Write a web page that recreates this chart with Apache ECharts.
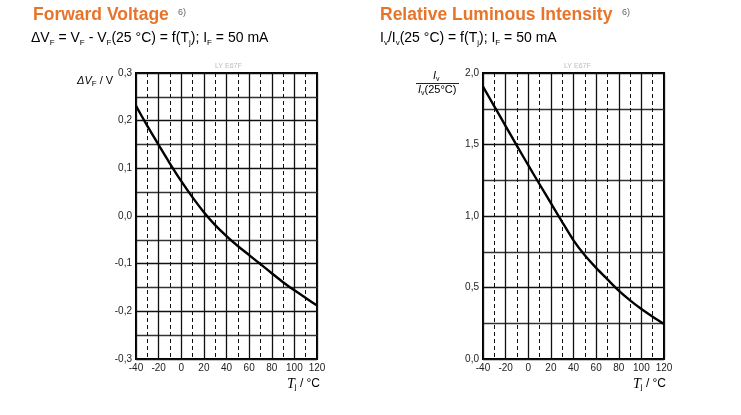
<!DOCTYPE html>
<html><head><meta charset="utf-8">
<script src="https://cdn.jsdelivr.net/npm/echarts@6/dist/echarts.min.js"></script>
<style>html,body{margin:0;padding:0;background:#fff}#c{width:741px;height:415px}</style>
</head><body><div id="c"></div>
<script>
// ---- data ----
const temps = [-40,-30,-20,-10,0,10,20,30,40,50,60,70,80,90,100,110,120];
const deltaVF = [0.231,0.189,0.149,0.110,0.073,0.039,0.008,-0.019,-0.042,-0.063,-0.082,-0.101,-0.120,-0.139,-0.156,-0.172,-0.188];
const relIv = [1.905,1.767,1.629,1.491,1.355,1.222,1.090,0.958,0.830,0.725,0.637,0.557,0.478,0.410,0.350,0.296,0.245];
const xTicks = [-40,-20,0,20,40,60,80,100,120];
const leftYTicks = [-0.3,-0.2,-0.1,0.0,0.1,0.2,0.3];
const rightYTicks = [0.0,0.5,1.0,1.5,2.0];

const FONT = '"Liberation Sans", Arial, sans-serif';
const SERIF = '"Liberation Serif", "DejaVu Serif", serif';
const ORANGE = '#e8742a';
const fmt = v => (Math.abs(v) < 1e-9 ? 0 : v).toFixed(1).replace('.', ',');

function xAxis(gi){
  return {type:'value', gridIndex:gi, min:xTicks[0], max:xTicks[xTicks.length-1], interval:20,
    axisLine:{show:false}, axisTick:{show:false},
    axisLabel:{fontFamily:FONT, fontSize:10, color:'#222', margin:4},
    splitLine:{show:true, lineStyle:{color:'#111', width:1.3}},
    minorTick:{show:false, splitNumber:2},
    minorSplitLine:{show:true, lineStyle:{color:'#111', width:1, type:[4,3]}}};
}
function yAxis(gi, ticks, interval){
  return {type:'value', gridIndex:gi, min:ticks[0], max:ticks[ticks.length-1], interval:interval,
    axisLine:{show:false}, axisTick:{show:false},
    axisLabel:{fontFamily:FONT, fontSize:10, color:'#222', margin:4, formatter:fmt},
    splitLine:{show:true, lineStyle:{color:'#111', width:1.3}},
    minorTick:{show:false, splitNumber:2},
    minorSplitLine:{show:true, lineStyle:{color:'#333', width:1.3}}};
}

const subRich = {
  n:{fontFamily:FONT, fontSize:14, color:'#555', lineHeight:18, verticalAlign:'middle'},
  s:{fontFamily:FONT, fontSize:8, color:'#555', lineHeight:6, verticalAlign:'bottom'}
};
function axRich(fs, ss){
  return {
    i:{fontFamily:FONT, fontSize:fs, fontStyle:'italic', color:'#222', lineHeight:14, verticalAlign:'middle'},
    t:{fontFamily:SERIF, fontSize:fs+2, fontStyle:'italic', color:'#222', lineHeight:14, verticalAlign:'middle'},
    s:{fontFamily:FONT, fontSize:ss, color:'#222', lineHeight:5, verticalAlign:'bottom'},
    n:{fontFamily:FONT, fontSize:fs, color:'#222', lineHeight:14, verticalAlign:'middle'}
  };
}

const chart = echarts.init(document.getElementById('c'), null, {renderer:'canvas'});
chart.setOption({
  animation:false,
  backgroundColor:'#fff',
  grid:[
    {left:136, top:73, width:181, height:286, show:true, borderColor:'#000', borderWidth:2, backgroundColor:'transparent'},
    {left:483, top:73, width:181, height:286, show:true, borderColor:'#000', borderWidth:2, backgroundColor:'transparent'}
  ],
  xAxis:[xAxis(0), xAxis(1)],
  yAxis:[yAxis(0, leftYTicks, 0.1), yAxis(1, rightYTicks, 0.5)],
  series:[
    {type:'line', xAxisIndex:0, yAxisIndex:0, data:temps.map((t,i)=>[t,deltaVF[i]]), showSymbol:false, smooth:0.25,
      lineStyle:{color:'#000', width:2.4}, z:5},
    {type:'line', xAxisIndex:1, yAxisIndex:1, data:temps.map((t,i)=>[t,relIv[i]]), showSymbol:false, smooth:0.25,
      lineStyle:{color:'#000', width:2.4}, z:5}
  ],
  graphic:[
    {type:'text', left:33, top:6, style:{text:'Forward Voltage', font:'bold 17.5px '+FONT, fill:ORANGE}},
    {type:'text', left:178, top:8, style:{text:'6)', font:'9px '+FONT, fill:'#666'}},
    {type:'text', left:31, top:31, style:{rich:subRich,
      text:'{n|ΔV}{s|F}{n| = V}{s|F}{n| - V}{s|F}{n|(25 °C) = f(T}{s|j}{n|); I}{s|F}{n| = 50 mA}'}},
    {type:'text', left:380, top:6, style:{text:'Relative Luminous Intensity', font:'bold 17.5px '+FONT, fill:ORANGE}},
    {type:'text', left:622, top:8, style:{text:'6)', font:'9px '+FONT, fill:'#666'}},
    {type:'text', left:380, top:31, style:{rich:subRich,
      text:'{n|I}{s|v}{n|/I}{s|v}{n|(25 °C) = f(T}{s|j}{n|); I}{s|F}{n| = 50 mA}'}},
    // watermarks
    {type:'text', left:215, top:63, style:{text:'LY E67F', font:'7px '+FONT, fill:'#bbb'}},
    {type:'text', left:564, top:63, style:{text:'LY E67F', font:'7px '+FONT, fill:'#bbb'}},
    // left y title
    {type:'text', left:77, top:75, style:{rich:axRich(11,8), text:'{i|ΔV}{s|F}{n| / V}'}},
    // right y title (fraction)
    {type:'text', left:433, top:70, style:{rich:axRich(11,7), text:'{i|I}{s|v}'}},
    {type:'line', shape:{x1:416, y1:83.5, x2:459, y2:83.5}, style:{stroke:'#222', lineWidth:1}},
    {type:'text', left:418, top:84, style:{rich:axRich(11,7), text:'{i|I}{s|v}{n|(25°C)}'}},
    // x titles
    {type:'text', left:287, top:377, style:{rich:axRich(12,8), text:'{t|T}{s|j}{n| / °C}'}},
    {type:'text', left:633, top:377, style:{rich:axRich(12,8), text:'{t|T}{s|j}{n| / °C}'}}
  ]
});
</script></body></html>
